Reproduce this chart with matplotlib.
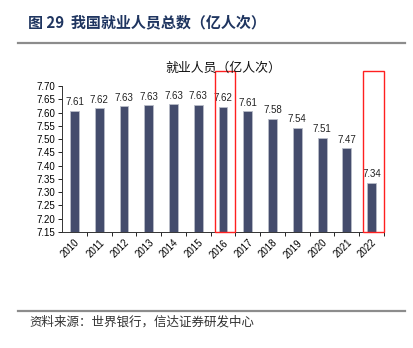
import matplotlib.pyplot as plt
from matplotlib.patches import Rectangle
from matplotlib.lines import Line2D

plt.rcParams['font.family'] = ['Liberation Sans', 'Noto Sans CJK SC', 'DejaVu Sans']

years = ['2010', '2011', '2012', '2013', '2014', '2015', '2016',
         '2017', '2018', '2019', '2020', '2021', '2022']
workers = [7.607, 7.616, 7.623, 7.627, 7.632, 7.630, 7.621,
           7.605, 7.577, 7.543, 7.505, 7.465, 7.336]
value_labels = ['7.61', '7.62', '7.63', '7.63', '7.63', '7.63', '7.62',
                '7.61', '7.58', '7.54', '7.51', '7.47', '7.34']
yticks = [7.15, 7.20, 7.25, 7.30, 7.35, 7.40, 7.45, 7.50, 7.55, 7.60, 7.65, 7.70]
highlight = ['2016', '2022']

fig = plt.figure(figsize=(4.14, 3.48), dpi=100)
ax = fig.add_axes([0.150, 0.3333, 0.7775, 0.4196])

x = list(range(len(years)))
ax.bar(x, workers, width=0.36, color='#444C6C', edgecolor='#B8BCC8', linewidth=0.6, zorder=2)
for i, v in enumerate(workers):
    ax.annotate(value_labels[i], (i, v), xytext=(0, 2.5), textcoords='offset points',
                ha='center', va='bottom', fontsize=7, color='#222222')

ax.set_xlim(-0.5, len(years) - 0.5)
ax.set_ylim(7.15, 7.70)
ax.set_yticks(yticks)
ax.set_yticklabels(['%.2f' % t for t in yticks], fontsize=7)
ax.set_xticks([i + 0.5 for i in x])
ax.set_xticklabels([])
ax.set_xticks(x, minor=True)
ax.set_xticklabels(years, minor=True, rotation=45, ha='right', rotation_mode='anchor', fontsize=7)
ax.tick_params(axis='x', which='minor', length=0, pad=4)
ax.tick_params(axis='x', which='major', length=3, direction='out', width=0.6)
ax.tick_params(axis='y', length=3, direction='out', width=0.6, pad=2)
for s in ['top', 'right']:
    ax.spines[s].set_visible(False)
for s in ['left', 'bottom']:
    ax.spines[s].set_linewidth(0.7)
    ax.spines[s].set_color('#333333')

# red highlight boxes
for y in highlight:
    i = years.index(y)
    ax.add_patch(Rectangle((i - 0.34, 7.15), 0.84, 0.605, fill=False,
                           edgecolor='#FF2020', linewidth=1.0, clip_on=False, zorder=3))

ax.set_title('就业人员（亿人次）', fontsize=9.3, pad=10, color='#111111')

fig.text(0.068, 0.937, '图 29  我国就业人员总数（亿人次）', fontsize=10.8, fontweight='bold',
         color='#1F3560', va='center', family=['Noto Sans CJK SC', 'DejaVu Sans'])
fig.add_artist(Line2D([0.044, 0.979], [0.876, 0.876], color='#8C8C8C', linewidth=1.6))
fig.add_artist(Line2D([0.044, 0.979], [0.106, 0.106], color='#8C8C8C', linewidth=1.6))
fig.text(0.072, 0.074, '资料来源：世界银行，信达证券研发中心', fontsize=9, color='#333333',
         va='center', family=['Noto Sans CJK SC', 'DejaVu Sans'])

fig.savefig('out.png', dpi=100)
